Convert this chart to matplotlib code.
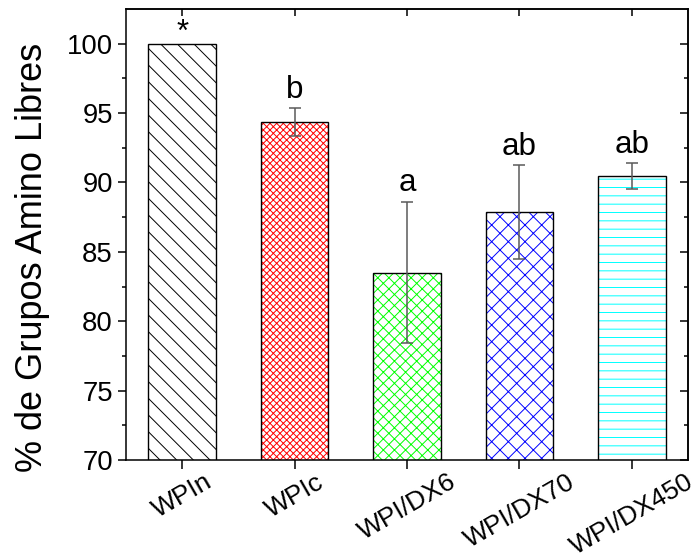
import numpy as np
import matplotlib
matplotlib.use("Agg")
import matplotlib.pyplot as plt

# values
categories = ["WPIn", "WPIc", "WPI/DX6", "WPI/DX70", "WPI/DX450"]
means = [100.0, 94.35, 83.5, 87.85, 90.45]
errors = [0.0, 1.0, 5.1, 3.4, 0.95]
letters = ["*", "b", "a", "ab", "ab"]
hatch_colors = ["black", "#ff0000", "#00ff00", "#0000ff", "#00ffff"]
hatches = ["\\\\", "xxxxx", "xxx", "xx", "--"]

plt.rcParams["font.family"] = ["Liberation Sans", "DejaVu Sans"]
plt.rcParams["hatch.linewidth"] = 0.7

DPI = 100
fig = plt.figure(figsize=(698 / DPI, 558 / DPI), dpi=DPI)
fig.subplots_adjust(left=0.1805, right=0.9857, top=0.9839, bottom=0.1756)
ax = fig.add_subplot(111)

x = np.arange(len(categories))
width = 0.6

# hatched fill (hatch takes the edge colour), then black outline on top
for i in range(len(categories)):
    ax.bar(x[i], means[i], width, color="white", edgecolor=hatch_colors[i],
           hatch=hatches[i], linewidth=0, zorder=1)
ax.bar(x, means, width, fill=False, edgecolor="black", linewidth=1.0, zorder=2)

has_err = [i for i in range(len(errors)) if errors[i] > 0]
ax.errorbar(x[has_err], np.array(means)[has_err], yerr=np.array(errors)[has_err],
            fmt="none", ecolor="#5a5a5a", elinewidth=1.1, capsize=4, capthick=1.1, zorder=3)

for i, lab in enumerate(letters):
    top = means[i] + errors[i]
    off = 2 if errors[i] == 0 else 7.5
    ax.annotate(lab, (x[i], top), xytext=(0, off), textcoords="offset points",
                ha="center", va="baseline", fontsize=22.5)

ax.set_xlim(-0.5, 4.5)
ax.set_ylim(70, 102.5)
ax.set_yticks(np.arange(70, 101, 5))
ax.set_yticks(np.arange(72.5, 102.5, 5), minor=True)
ax.set_xticks(x)
ax.set_xticklabels(categories, rotation=30, ha="center")

ax.set_ylabel("% de Grupos Amino Libres", fontsize=26)
ax.yaxis.set_label_coords(-0.136, 0.45)

for s in ax.spines.values():
    s.set_linewidth(1.1)

ax.tick_params(axis="y", which="major", direction="out", length=5.5, width=1.1,
               labelsize=19.8, pad=4, right=False)
ax.tick_params(axis="y", which="minor", direction="out", length=3, width=1.1, right=False)
ax.tick_params(axis="x", which="major", direction="out", length=6.5, width=1.1,
               labelsize=19, pad=0.5, top=False)

# mirrored ticks pointing inward on top and right
top_ax = ax.secondary_xaxis("top")
top_ax.set_xticks(x)
top_ax.tick_params(direction="in", length=5, width=1.1, labeltop=False)
right_ax = ax.secondary_yaxis("right")
right_ax.set_yticks(np.arange(70, 101, 5))
right_ax.set_yticks(np.arange(72.5, 102.5, 5), minor=True)
right_ax.tick_params(which="major", direction="in", length=6, width=1.1, labelright=False)
right_ax.tick_params(which="minor", direction="in", length=3, width=1.1, labelright=False)
for sec in (top_ax, right_ax):
    for s in sec.spines.values():
        s.set_linewidth(1.1)

fig.savefig("out.png", dpi=DPI)
